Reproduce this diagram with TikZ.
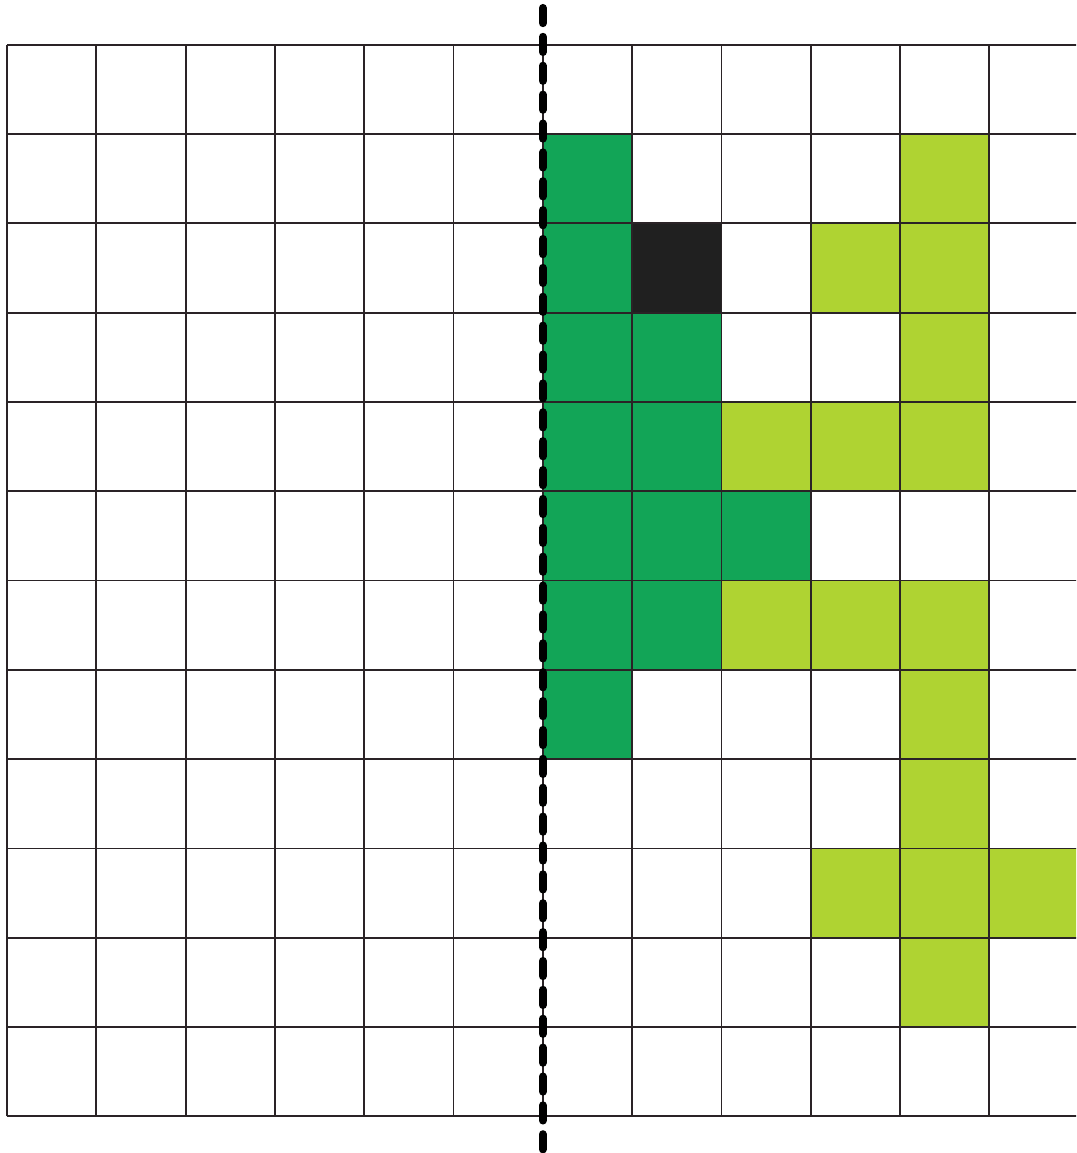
\documentclass[tikz,border=0pt]{standalone}
\usepackage{tikz}

\definecolor{dunkelgruen}{HTML}{12A557}
\definecolor{hellgruen}{HTML}{AFD332}
\definecolor{gitterfarbe}{HTML}{2A2326}
\definecolor{schwarzfeld}{HTML}{202020}

\begin{document}
\begin{tikzpicture}[
    gitter/.style={gitterfarbe, line width=0.6pt},
    achse/.style={black, line width=2.6pt, line cap=round, dash pattern=on 4.8pt off 4.4pt}
  ]

    % 1. Bildausschnitt (Gitter rechts abgeschnitten)
    \useasboundingbox (-0.078,-0.41) rectangle (11.97,12.50);
    \clip (-0.078,-0.41) rectangle (11.97,12.50);

    % 2. Farbige Felder (Spalte, Zeile von oben)
    \foreach \c/\r in {6/1,6/2,6/3,6/4,6/5,6/6,6/7,7/3,7/4,7/5,7/6,8/5}
        \fill[dunkelgruen] (\c,11-\r) rectangle ++(1,1);
    \fill[schwarzfeld] (7,9) rectangle ++(1,1);
    \foreach \c/\r in {10/1,9/2,10/2,10/3,8/4,9/4,10/4,8/6,9/6,10/6,
                       10/7,10/8,9/9,10/9,11/9,10/10}
        \fill[hellgruen] (\c,11-\r) rectangle ++(1,1);

    % 3. Gitter 12 x 12
    \foreach \i in {0,...,12} {
        \draw[gitter] (\i,0) -- (\i,12);
        \draw[gitter] (0,\i) -- (12.5,\i);
    }

    % 4. Spiegelachse
    \coordinate (oben) at (6,12.41);
    \coordinate (unten) at (6,-0.6);
    \draw[achse] (oben) -- (unten);

\end{tikzpicture}
\end{document}
